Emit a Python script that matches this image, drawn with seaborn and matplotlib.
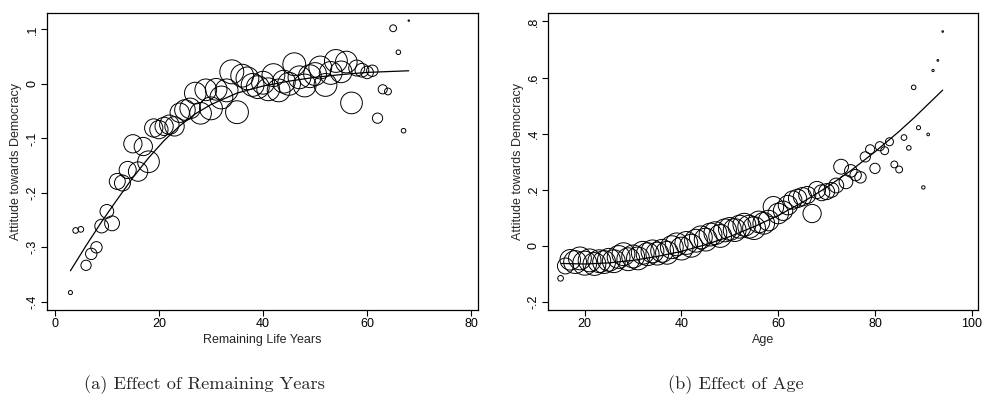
import numpy as np
import pandas as pd
import matplotlib
matplotlib.use("Agg")
import matplotlib.pyplot as plt
import seaborn as sns

sns.set_style("ticks")
plt.rcParams['font.family'] = ['Liberation Sans', 'DejaVu Sans']

# ---------------- Panel (a): remaining life years ----------------
remaining_years = [3, 4, 5, 6, 7, 8, 9, 10, 11, 12, 13, 14, 15, 16, 17, 18, 19, 20,
                   21, 22, 23, 24, 25, 26, 27, 28, 29, 30, 31, 32, 33, 34, 35, 36,
                   37, 38, 39, 40, 41, 42, 43, 44, 45, 46, 47, 48, 49, 50, 51, 52,
                   53, 54, 55, 56, 57, 58, 59, 60, 61, 62, 63, 64, 65, 66, 67, 68]
attitude_a = [-0.383, -0.269, -0.267, -0.333, -0.312, -0.300, -0.261, -0.234, -0.256,
              -0.179, -0.182, -0.158, -0.110, -0.161, -0.115, -0.143, -0.081, -0.084,
              -0.078, -0.075, -0.078, -0.053, -0.048, -0.045, -0.017, -0.054, -0.011,
              -0.045, -0.010, -0.025, -0.012, 0.022, -0.052, 0.015, 0.010, -0.002,
              -0.006, 0.002, -0.010, 0.016, -0.012, 0.004, 0.000, 0.036, 0.012,
              -0.003, 0.014, 0.018, 0.030, -0.002, 0.020, 0.042, 0.022, 0.040,
              -0.035, 0.029, 0.025, 0.021, 0.024, -0.063, -0.010, -0.014, 0.102,
              0.058, -0.086, 0.116]
weight_a = [32, 62, 62, 202, 250, 250, 360, 360, 422, 490, 490, 562, 640, 722, 640,
            902, 640, 640, 640, 722, 722, 722, 810, 810, 902, 902, 902, 1000, 902,
            1000, 1000, 1102, 1000, 1000, 1000, 1000, 1000, 1000, 1000, 1000, 1000,
            1000, 1000, 1000, 1000, 1000, 1000, 1000, 1000, 1000, 1000, 1000, 902,
            902, 902, 490, 360, 302, 250, 202, 160, 90, 90, 40, 40, 4]
fit_years = [3, 6, 9, 12, 15, 18, 21, 24, 27, 30, 35, 40, 45, 50, 55, 60, 68]
fit_a = [-0.343, -0.297, -0.253, -0.212, -0.172, -0.136, -0.104, -0.077, -0.055,
         -0.038, -0.017, -0.004, 0.005, 0.012, 0.017, 0.021, 0.024]

# ---------------- Panel (b): age ----------------
ages = [15, 16, 17, 18, 19, 20, 21, 22, 23, 24, 25, 26, 27, 28, 29, 30, 31, 32, 33,
        34, 35, 36, 37, 38, 39, 40, 41, 42, 43, 44, 45, 46, 47, 48, 49, 50, 51, 52,
        53, 54, 55, 56, 57, 58, 59, 60, 61, 62, 63, 64, 65, 66, 67, 68, 69, 70, 71,
        72, 73, 74, 75, 76, 77, 78, 79, 80, 81, 82, 83, 84, 85, 86, 87, 88, 89, 90,
        91, 92, 93, 94]
attitude_b = [-0.116, -0.072, -0.050, -0.058, -0.045, -0.062, -0.052, -0.065, -0.055,
              -0.058, -0.050, -0.055, -0.040, -0.030, -0.048, -0.038, -0.045, -0.025,
              -0.030, -0.020, -0.028, -0.018, -0.025, -0.005, 0.005, -0.010, 0.010,
              0.000, 0.018, 0.030, 0.022, 0.040, 0.045, 0.035, 0.055, 0.060, 0.056,
              0.068, 0.075, 0.068, 0.063, 0.085, 0.080, 0.090, 0.139, 0.115, 0.125,
              0.145, 0.163, 0.169, 0.175, 0.181, 0.115, 0.199, 0.189, 0.193, 0.199,
              0.215, 0.282, 0.228, 0.267, 0.252, 0.244, 0.317, 0.344, 0.276, 0.355,
              0.339, 0.371, 0.290, 0.272, 0.386, 0.349, 0.565, 0.421, 0.208, 0.397,
              0.625, 0.661, 0.764]
weight_b = [62, 490, 810, 1000, 1000, 1102, 1000, 1000, 1000, 1000, 1000, 1000, 1000,
            1000, 1000, 1000, 1000, 1000, 1000, 1000, 1000, 1000, 1000, 1000, 1000,
            1000, 1000, 1000, 1000, 1000, 1000, 1000, 1000, 1000, 1000, 1000, 1000,
            1000, 1000, 1000, 1000, 902, 902, 810, 810, 810, 722, 722, 640, 640, 640,
            562, 640, 562, 490, 490, 422, 422, 422, 360, 302, 250, 250, 202, 160, 202,
            160, 122, 122, 90, 90, 62, 40, 40, 32, 22, 14, 10, 6, 5]
fit_ages = [15.2, 20, 25, 30, 35, 40, 45, 50, 55, 60, 65, 70, 75, 80, 85, 88, 91, 94]
fit_b = [-0.063, -0.065, -0.061, -0.052, -0.038, -0.020, 0.004, 0.033, 0.068, 0.108,
         0.155, 0.208, 0.268, 0.335, 0.408, 0.455, 0.505, 0.555]

df_a = pd.DataFrame({"x": remaining_years, "y": attitude_a, "n": weight_a})
df_b = pd.DataFrame({"x": ages, "y": attitude_b, "n": weight_b})

fig = plt.figure(figsize=(9.82, 4.0), dpi=100)
axL = fig.add_axes([47 / 982, 90 / 400, 431 / 982, 297 / 400])
axR = fig.add_axes([548 / 982, 90 / 400, 430 / 982, 297 / 400])

NMAX = 1102
K = 0.27  # points^2 per weight unit


def draw(ax, df, cx, cy, xlim, ylim, xticks, yticks, ylabels, xlabel):
    sns.scatterplot(data=df, x="x", y="y", size="n", sizes=(0, K * NMAX),
                    size_norm=(0, NMAX), legend=False, facecolor="none",
                    edgecolor="black", linewidth=0.7, ax=ax, zorder=2)
    sns.lineplot(x=cx, y=cy, ax=ax, color="black", linewidth=0.9,
                 estimator=None, sort=False, zorder=3)
    ax.set_xlim(*xlim)
    ax.set_ylim(*ylim)
    ax.set_xticks(xticks)
    ax.set_xticklabels([str(t) for t in xticks])
    ax.set_yticks(yticks)
    ax.set_yticklabels(ylabels, rotation=90, va="center")
    ax.tick_params(direction="out", length=4, width=0.8, labelsize=9, pad=2,
                   colors="black")
    ax.set_xlabel(xlabel, fontsize=9, labelpad=3)
    ax.set_ylabel("Attitude towards Democracy", fontsize=9, labelpad=3)
    for sp in ax.spines.values():
        sp.set_visible(True)
        sp.set_color("black")
        sp.set_linewidth(0.9)
    ax.grid(False)


draw(axL, df_a, fit_years, fit_a, (-1.5, 81.3), (-0.415, 0.130),
     [0, 20, 40, 60, 80], [-0.4, -0.3, -0.2, -0.1, 0.0, 0.1],
     ["-.4", "-.3", "-.2", "-.1", "0", ".1"], "Remaining Life Years")
draw(axR, df_b, fit_ages, fit_b, (12.4, 101.3), (-0.229, 0.83),
     [20, 40, 60, 80, 100], [-0.2, 0.0, 0.2, 0.4, 0.6, 0.8],
     ["-.2", "0", ".2", ".4", ".6", ".8"], "Age")

fig.text(204 / 982, 15 / 400, "(a) Effect of Remaining Years", family="cmr10",
         fontsize=13.2, ha="center", va="center")
fig.text(736 / 982, 15 / 400, "(b) Effect of Age", family="cmr10",
         fontsize=13.2, ha="center", va="center")

fig.savefig("out.png", dpi=100)
